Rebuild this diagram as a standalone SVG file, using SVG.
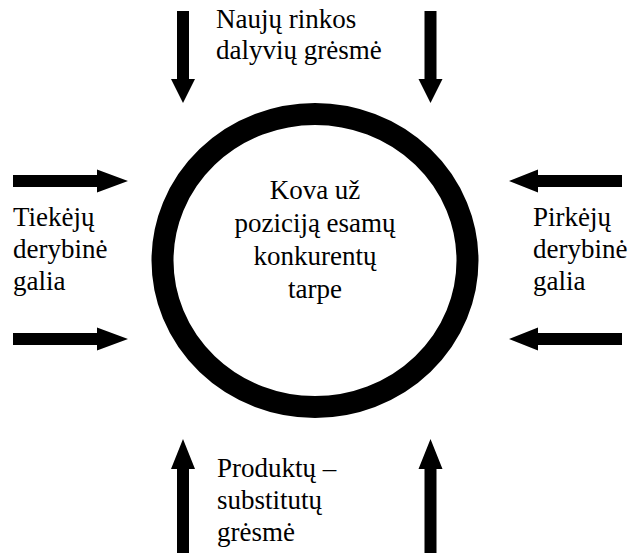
<svg xmlns="http://www.w3.org/2000/svg" width="629" height="554" viewBox="0 0 629 554">
<defs>
<path id="vdown" d="M-6,0 L6,0 L6,68 L12,68 L0,92 L-12,68 L-6,68 Z"/>
<path id="vup" d="M-6,0 L6,0 L6,-84 L12,-84 L0,-114 L-12,-84 L-6,-84 Z"/>
<path id="hright" d="M0,-6 L84,-6 L84,-11.5 L115,0 L84,11.5 L84,6 L0,6 Z"/>
<path id="hleft" d="M0,-6 L-84,-6 L-84,-11.5 L-113,0 L-84,11.5 L-84,6 L0,6 Z"/>
</defs>
<rect width="629" height="554" fill="#fff"/>
<g id="center">
<ellipse cx="315" cy="260.5" rx="152.5" ry="146.5" fill="none" stroke="#000" stroke-width="22"/>
<text font-family="Times New Roman" font-size="27" text-anchor="middle"><tspan x="315" y="199">Kova už</tspan><tspan x="315" y="232">poziciją esamų</tspan><tspan x="315" y="265">konkurentų</tspan><tspan x="315" y="298">tarpe</tspan></text>
</g>
<g id="top-label"><text font-family="serif" font-size="27"><tspan x="216" y="28">Naujų rinkos</tspan><tspan x="216" y="59">dalyvių grėsmė</tspan></text></g>
<g id="left-label"><text style="font-family:'Liberation Serif',serif;font-size:27px"><tspan x="13" y="226">Tiekėjų</tspan><tspan x="13" y="258">derybinė</tspan><tspan x="13" y="290">galia</tspan></text></g>
<g id="right-label"><text font-family="Tinos" font-size="27"><tspan x="533" y="226">Pirkėjų</tspan><tspan x="533" y="258">derybinė</tspan><tspan x="533" y="290">galia</tspan></text></g>
<g id="bottom-label"><text font-family="Liberation Serif" font-size="27"><tspan x="217" y="477">Produktų –</tspan><tspan x="217" y="509">substitutų</tspan><tspan x="217" y="541">grėsmė</tspan></text></g>
<g id="connectors" fill="#000">
<use href="#vdown" transform="translate(183,11)"/>
<use href="#vdown" transform="translate(430.5,11)"/>
<use href="#vup" transform="translate(183,553)"/>
<use href="#vup" transform="translate(430.5,553)"/>
<use href="#hright" transform="translate(13,181)"/>
<use href="#hright" transform="translate(13,339)"/>
<use href="#hleft" transform="translate(622,181)"/>
<use href="#hleft" transform="translate(622,339)"/>
</g>
</svg>
